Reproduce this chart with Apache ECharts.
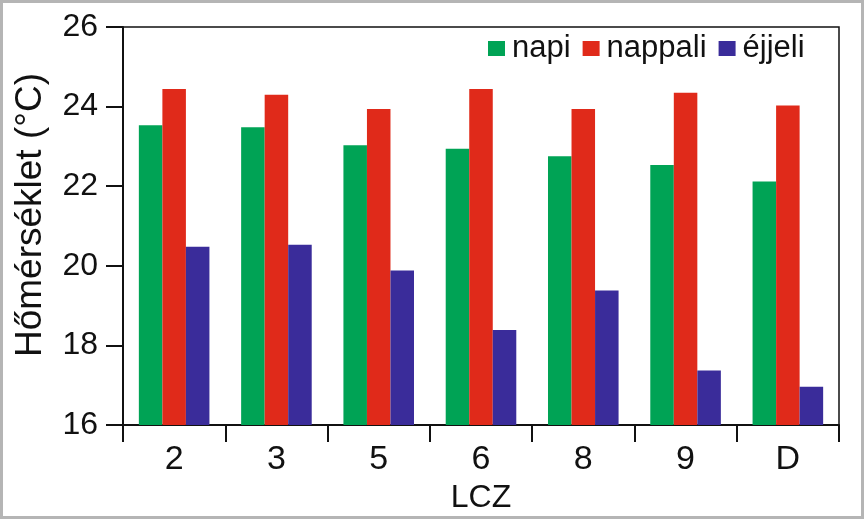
<!DOCTYPE html>
<html>
<head>
<meta charset="utf-8">
<script src="https://cdn.jsdelivr.net/npm/echarts@6/dist/echarts.min.js"></script>
<style>
html,body{margin:0;padding:0;background:#fff;}
#chart{width:868px;height:520px;}
</style>
</head>
<body>
<div id="chart"></div>
<script>
const categories = ['2', '3', '5', '6', '8', '9', 'D'];
const napi = [23.53, 23.48, 23.03, 22.94, 22.75, 22.53, 22.12];
const nappali = [24.44, 24.30, 23.94, 24.44, 23.94, 24.35, 24.03];
const ejjeli = [20.48, 20.53, 19.88, 18.39, 19.38, 17.37, 16.96];
const seriesNames = ['napi', 'nappali', 'éjjeli'];
const colors = ['#00A355', '#E02A1A', '#3A2C9A'];

const font = '"Liberation Sans", Arial, Helvetica, sans-serif';
const chart = echarts.init(document.getElementById('chart'), null, {renderer: 'canvas'});
const dataSets = [napi, nappali, ejjeli];

chart.setOption({
  animation: false,
  backgroundColor: '#fff',
  textStyle: {fontFamily: font},
  grid: {left: 123, right: 29, top: 27, bottom: 95, show: true, borderColor: '#111', borderWidth: 1.5, backgroundColor: 'transparent'},
  legend: {
    left: 488, top: 33, padding: 0,
    itemWidth: 17, itemHeight: 15, itemGap: 12,
    icon: 'rect',
    textStyle: {fontSize: 31, color: '#111', fontFamily: font, padding: [0, 0, 0, 2]},
    data: seriesNames
  },
  xAxis: {
    type: 'category',
    data: categories,
    name: 'LCZ',
    nameLocation: 'middle',
    nameGap: 50,
    nameTextStyle: {fontSize: 32, color: '#111', fontFamily: font},
    axisLine: {lineStyle: {color: '#111', width: 2}},
    axisTick: {show: true, inside: false, length: 17, lineStyle: {color: '#111', width: 2}},
    axisLabel: {fontSize: 34, color: '#111', margin: 18, fontFamily: font},
    splitLine: {show: false}
  },
  yAxis: {
    type: 'value',
    min: 16, max: 26, interval: 2,
    name: 'Hőmérséklet (°C)',
    nameLocation: 'middle',
    nameRotate: 90,
    nameGap: 74,
    nameTextStyle: {fontSize: 37, color: '#111', fontFamily: font, padding: [0, 0, 0, 22]},
    axisLine: {show: true, lineStyle: {color: '#111', width: 2}},
    axisTick: {show: true, inside: false, length: 17, lineStyle: {color: '#111', width: 2}},
    axisLabel: {fontSize: 32, color: '#111', margin: 25, fontFamily: font},
    splitLine: {show: false}
  },
  series: seriesNames.map((n, i) => ({
    name: n,
    type: 'bar',
    data: dataSets[i],
    itemStyle: {color: colors[i]},
    barGap: '0%',
    barCategoryGap: '31%'
  })),
  graphic: [{
    type: 'rect',
    shape: {x: 1.5, y: 1.5, width: 861, height: 516},
    style: {fill: 'none', stroke: '#b5b5b5', lineWidth: 3},
    silent: true
  }]
});
</script>
</body>
</html>
